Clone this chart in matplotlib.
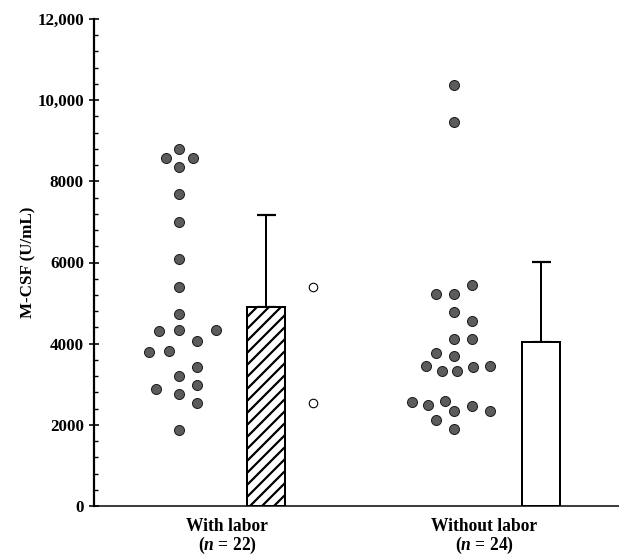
import matplotlib
matplotlib.use("Agg")
import matplotlib.pyplot as plt
from matplotlib.ticker import MultipleLocator, FuncFormatter

plt.rcParams['font.family'] = 'Liberation Serif'
plt.rcParams['font.weight'] = 'bold'
plt.rcParams['mathtext.fontset'] = 'custom'
plt.rcParams['mathtext.it'] = 'Liberation Serif:italic:bold'
plt.rcParams['mathtext.rm'] = 'Liberation Serif:bold'
plt.rcParams['hatch.linewidth'] = 2.2

# data (U/mL)
groups = ["With labor", "Without labor"]
group_n = [22, 24]

with_labor = [8800, 8570, 8570, 8345, 7680, 7006, 6086, 5388, 4731, 4304, 4337,
              4074, 4329, 3802, 3827, 3433, 3211, 2875, 2989, 2760, 2546, 1873]
# horizontal jitter of each dot (fraction of group spacing)
with_labor_jitter = [0, -0.047, 0.05, 0, 0, 0, 0, 0, 0, -0.074, 0,
                     0.067, 0.133, -0.11, -0.036, 0.067, 0, -0.083, 0.067, 0, 0.067, 0]

without_labor = [10366, 9462, 5454, 5224, 5224, 4780, 4550, 4123, 4123, 3778, 3696, 3450,
                 3326, 3326, 3417, 3450, 2563, 2480, 2579, 2349, 2464, 2349, 2119, 1889]
without_labor_jitter = [0, 0, 0.064, -0.067, 0, 0, 0.064, 0, 0.064, -0.064, 0, -0.1,
                        -0.045, 0.011, 0.069, 0.13, -0.152, -0.093, -0.034, 0, 0.064, 0.13, -0.067, 0]

# open circles next to the "with labor" bar
with_labor_open = [5396, 2530]

bar_means = [4911, 4041]
bar_sd = [2259, 1971]
bar_hatch = ['//', '']

# layout
centers = [1.0, 2.0]
bar_off = 0.316
bar_w = 0.136
open_off = 0.486

fig = plt.figure(figsize=(619 / 72, 557 / 72), dpi=72)
ax = fig.add_axes([94 / 619, 51 / 557, 525 / 619, 487 / 557])

dot_kw = dict(ls='', marker='o', ms=10, mfc='#5c5c5c', mec='#1c1c1c', mew=1.0, zorder=3)
for c, vals, jit in zip(centers, [with_labor, without_labor], [with_labor_jitter, without_labor_jitter]):
    ax.plot([c + j for j in jit], vals, **dot_kw)

ax.plot([centers[0] + open_off] * len(with_labor_open), with_labor_open, ls='', marker='o',
        ms=8.5, mfc='white', mec='black', mew=1.1, zorder=3)

for c, m, sd, h in zip(centers, bar_means, bar_sd, bar_hatch):
    ax.bar(c + bar_off, m, width=bar_w, color='white', edgecolor='black', linewidth=2,
           hatch=h, zorder=2)
    ax.errorbar(c + bar_off, m, yerr=[[0], [sd]], fmt='none', ecolor='black', elinewidth=2,
                capsize=9.5, capthick=2.2, zorder=1)

ax.set_xlim(0.691, 2.6)
ax.set_ylim(0, 12000)

ax.yaxis.set_major_locator(MultipleLocator(2000))
ax.yaxis.set_minor_locator(MultipleLocator(400))
ax.yaxis.set_major_formatter(FuncFormatter(lambda v, p: f"{int(v):,}" if v >= 10000 else f"{int(v)}"))
ax.tick_params(axis='y', which='major', direction='inout', length=10, width=1.6, labelsize=17, pad=5)
ax.tick_params(axis='y', which='minor', direction='in', length=4, width=1.4)

label_pos = [1.175, 2.109]
ax.set_xticks(label_pos)
ax.set_xticklabels([f"{g}\n($n$ = {n})" for g, n in zip(groups, group_n)],
                   fontsize=17.5, linespacing=1.0)
ax.tick_params(axis='x', length=0, pad=12)

ax.set_ylabel("M-CSF (U/mL)", fontsize=17, fontweight='bold', labelpad=1)

for s in ['top', 'right']:
    ax.spines[s].set_visible(False)
ax.spines['left'].set_linewidth(2.2)
ax.spines['bottom'].set_linewidth(1.5)

fig.savefig("out.png", dpi=72)
